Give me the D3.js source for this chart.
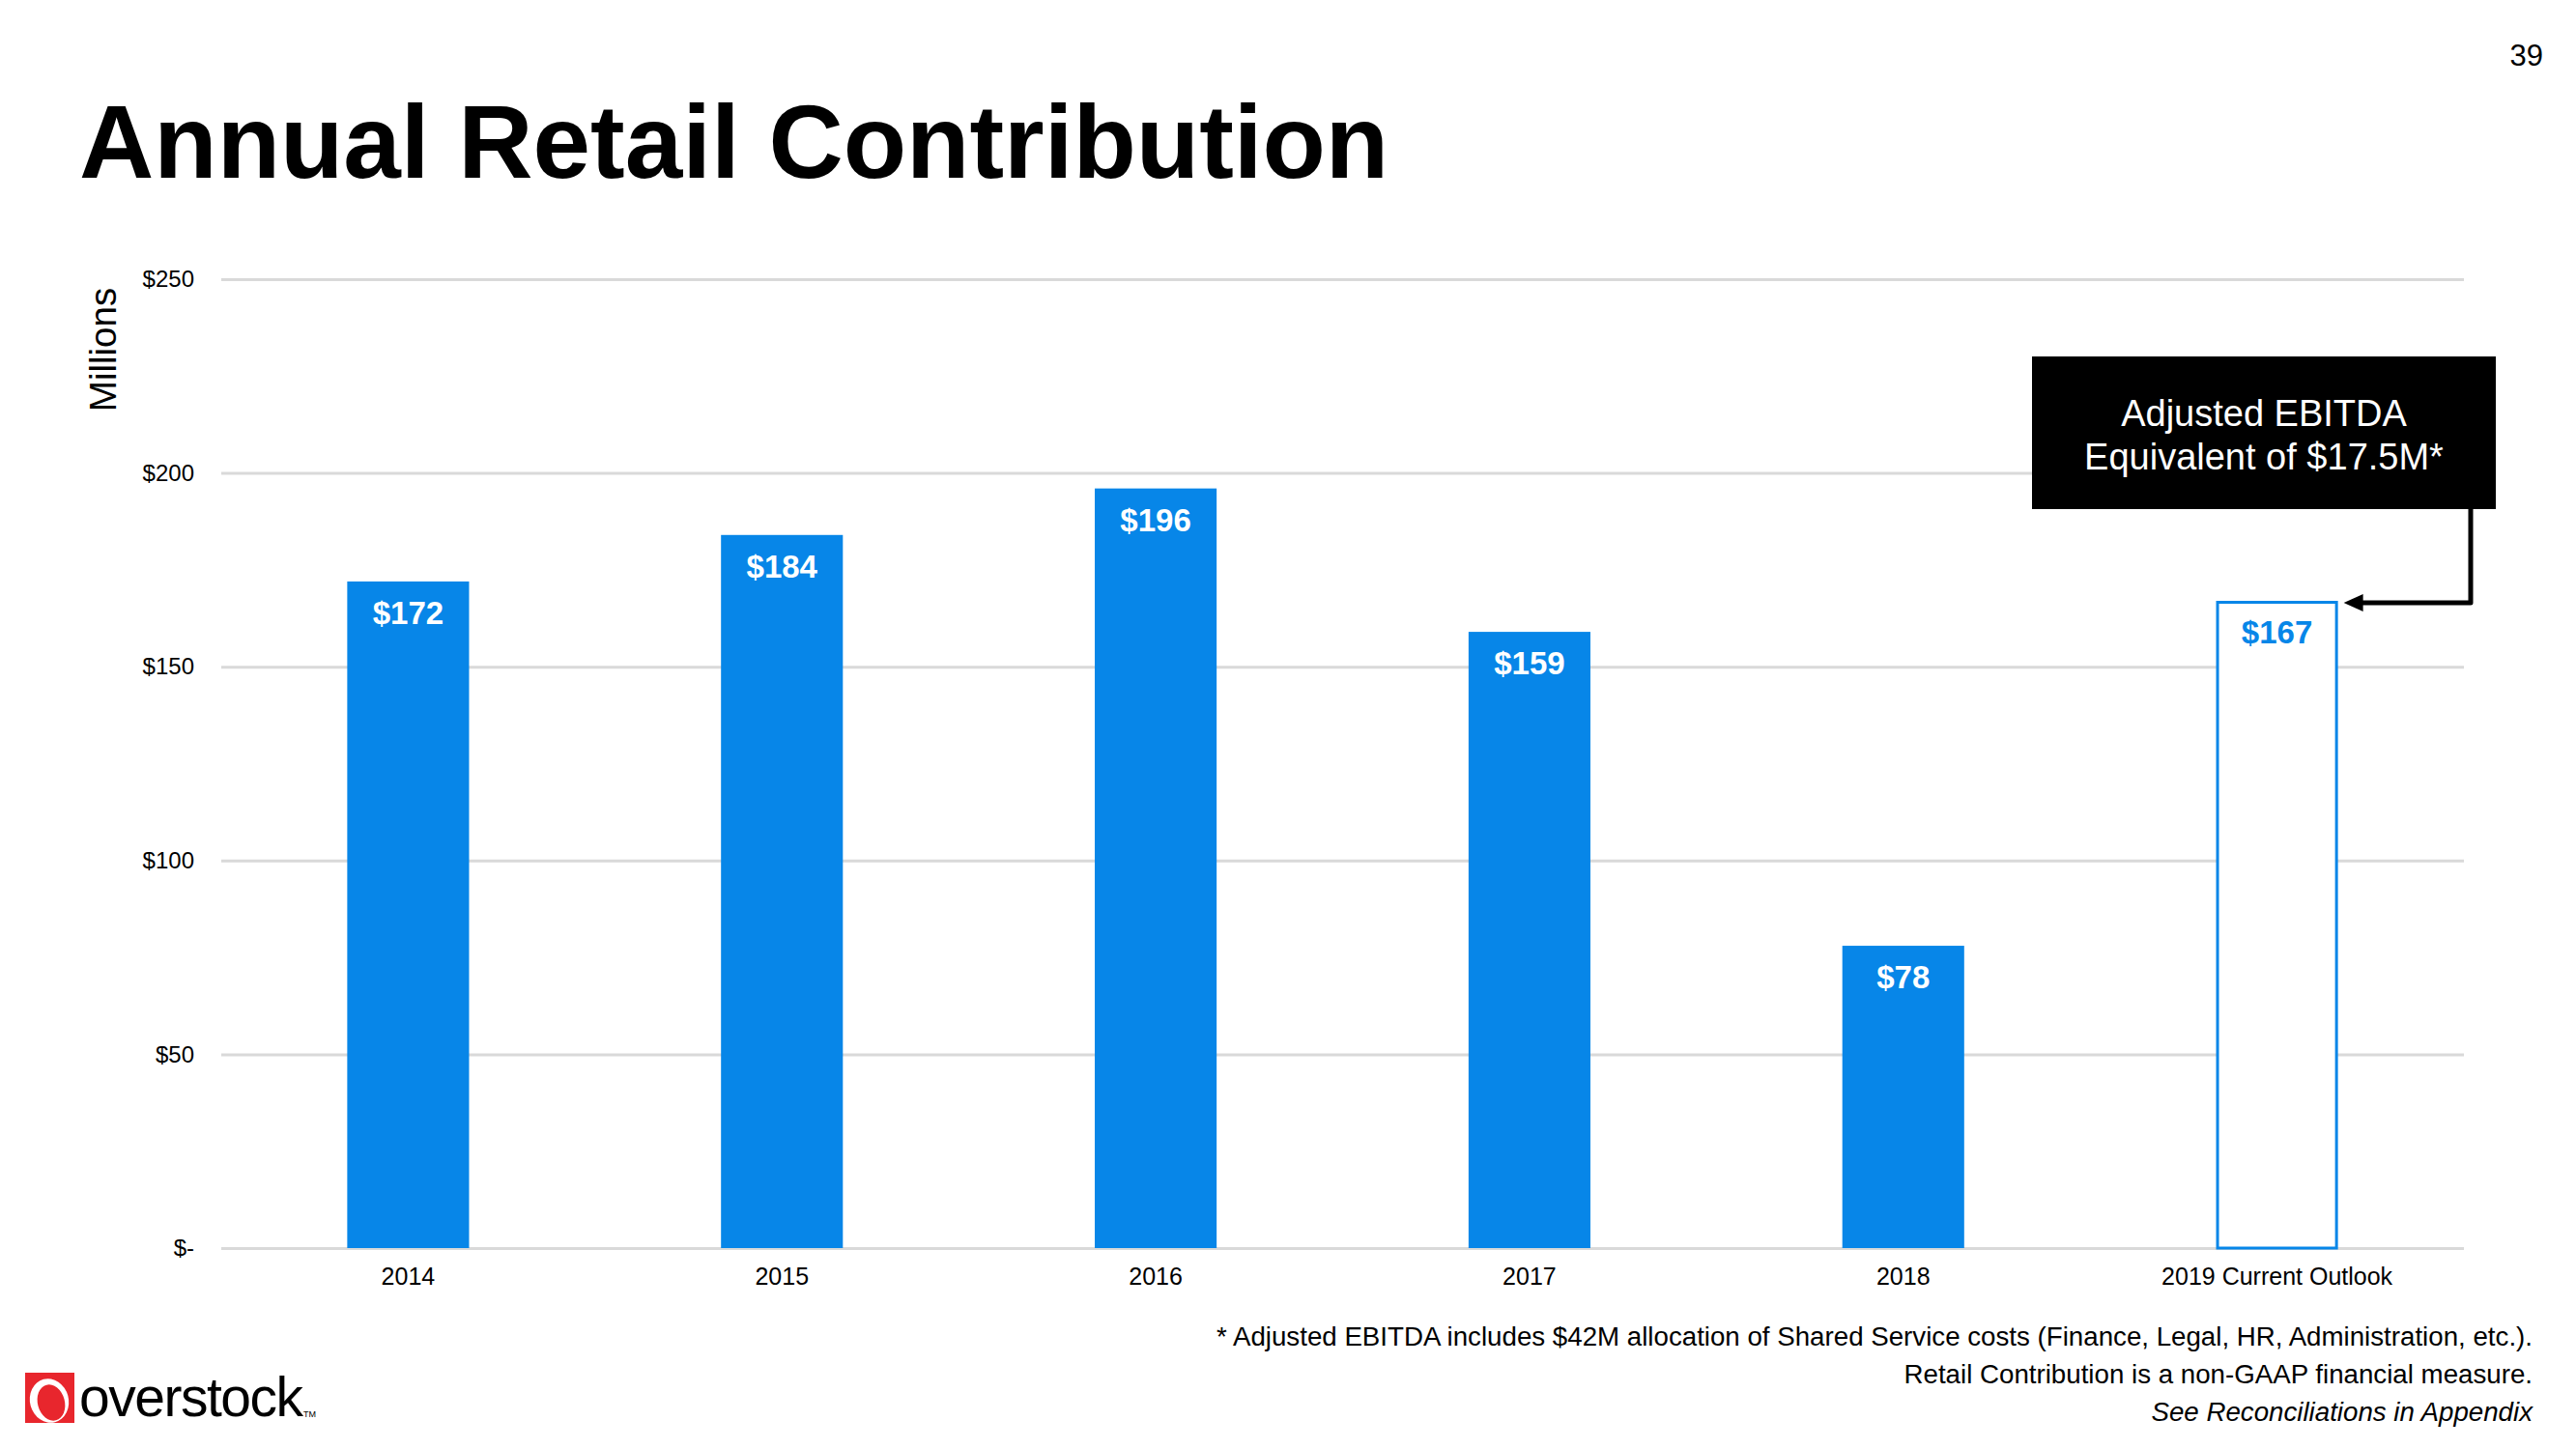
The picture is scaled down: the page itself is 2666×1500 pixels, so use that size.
<!DOCTYPE html>
<html><head><meta charset="utf-8">
<script src="https://cdn.jsdelivr.net/npm/d3@7"></script>
<style>
html,body{margin:0;padding:0;background:#fff;}
svg{display:block;font-family:"Liberation Sans",Arial,sans-serif;}
</style></head>
<body>
<svg id="chart" width="2666" height="1500"></svg>
<script>
const categories = ["2014","2015","2016","2017","2018","2019 Current Outlook"];
const values = [172,184,196,159,78,167];
const labels = ["$172","$184","$196","$159","$78","$167"];
const outlook = [false,false,false,false,false,true];
const yTicks = [0,50,100,150,200,250];
const yTickLabels = ["$-","$50","$100","$150","$200","$250"];
const footnotes = [
  "* Adjusted EBITDA includes $42M allocation of Shared Service costs (Finance, Legal, HR, Administration, etc.).",
  "Retail Contribution is a non-GAAP financial measure.",
  "See Reconciliations in Appendix"
];
const calloutLines = ["Adjusted EBITDA","Equivalent of $17.5M*"];

const BLUE = "#0786e8";
const svg = d3.select("#chart");

const plot = {left:229, right:2550, top:289, bottom:1292};
const x = d3.scaleBand().domain(categories).range([plot.left, plot.right]).paddingInner(0.674).paddingOuter(0.337);
const y = d3.scaleLinear().domain([0,250]).range([plot.bottom, plot.top]);

// title
svg.append("text").attr("x",82).attr("y",184).attr("font-size",107).attr("font-weight","bold").attr("fill","#000").text("Annual Retail Contribution");
// page number
svg.append("text").attr("x",2632).attr("y",68).attr("text-anchor","end").attr("font-size",31).attr("fill","#000").text("39");

// y axis + gridlines
const yAxis = d3.axisLeft(y).tickValues(yTicks).tickFormat((d,i)=>yTickLabels[i]).tickSize(-(plot.right-plot.left)).tickPadding(28);
const ya = svg.append("g").attr("transform",`translate(${plot.left},0)`).call(yAxis);
ya.select(".domain").remove();
ya.selectAll(".tick line").attr("stroke","#d9d9d9").attr("stroke-width",3);
ya.selectAll(".tick text").attr("font-size",24).attr("font-family","Liberation Sans, Arial, sans-serif").attr("fill","#000");

// y title
svg.append("text").attr("transform","translate(120,362) rotate(-90)").attr("text-anchor","middle").attr("font-size",38.5).attr("fill","#000").text("Millions");

// x axis
const xAxis = d3.axisBottom(x).tickSize(0).tickPadding(20);
const xa = svg.append("g").attr("transform",`translate(0,${plot.bottom})`).call(xAxis);
xa.select(".domain").remove();
xa.selectAll(".tick text").attr("font-size",25).attr("font-family","Liberation Sans, Arial, sans-serif").attr("fill","#000");

// bars
const data = categories.map((c,i)=>({c, v:values[i], l:labels[i], o:outlook[i]}));
svg.append("g").selectAll("rect").data(data).join("rect")
  .attr("x",d=>x(d.c)+(d.o?1.5:0))
  .attr("y",d=>y(d.v)+(d.o?1.5:0))
  .attr("width",d=>x.bandwidth()-(d.o?3:0))
  .attr("height",d=>y(0)-y(d.v)-(d.o?1.5:0))
  .attr("fill",d=>d.o?"#fff":BLUE)
  .attr("stroke",d=>d.o?BLUE:"none")
  .attr("stroke-width",3);

svg.append("g").selectAll("text").data(data).join("text")
  .attr("x",d=>x(d.c)+x.bandwidth()/2)
  .attr("y",d=>y(d.v)+44)
  .attr("text-anchor","middle")
  .attr("font-size",33).attr("font-weight","bold")
  .attr("fill",d=>d.o?BLUE:"#fff")
  .text(d=>d.l);

// callout box
const bx0=2103, bx1=2583, by0=369, by1=527;
svg.append("rect").attr("x",bx0).attr("y",by0).attr("width",bx1-bx0).attr("height",by1-by0).attr("fill","#000");
svg.append("g").selectAll("text").data(calloutLines).join("text")
  .attr("x",(bx0+bx1)/2).attr("y",(d,i)=>441+i*45)
  .attr("text-anchor","middle").attr("font-size",38).attr("fill","#fff").text(d=>d);

// connector arrow to 2019 bar
const last = data[data.length-1];
const tipX = x(last.c)+x.bandwidth()+6;
const ay = y(last.v)+2;
svg.append("path").attr("d",`M2557,${by1} L2557,${ay} L${tipX+16},${ay}`)
  .attr("fill","none").attr("stroke","#000").attr("stroke-width",5).attr("stroke-linejoin","round");
svg.append("path").attr("d",`M${tipX},${ay} L${tipX+20},${ay-9} L${tipX+20},${ay+9} Z`).attr("fill","#000");

// footnotes
svg.append("g").selectAll("text").data(footnotes).join("text")
  .attr("x",2621).attr("y",(d,i)=>1393+i*39)
  .attr("text-anchor","end").attr("font-size",27.7)
  .attr("font-style",(d,i)=>i===2?"italic":"normal")
  .attr("fill","#000").text(d=>d);

// logo
const lg = svg.append("g");
lg.append("rect").attr("x",26).attr("y",1421).attr("width",51).attr("height",52).attr("fill","#e8262d");
lg.append("ellipse").attr("cx",51).attr("cy",1450).attr("rx",20).attr("ry",23).attr("fill","#fff").attr("transform","rotate(-15,51,1450)");
lg.append("ellipse").attr("cx",53).attr("cy",1452).attr("rx",14).attr("ry",19).attr("fill","#e8262d").attr("transform","rotate(-15,53,1452)");
lg.append("text").attr("x",82).attr("y",1466).attr("font-size",57).attr("font-family","Liberation Sans, Arial, sans-serif").attr("letter-spacing",-1.5).attr("fill","#000").text("overstock");
lg.append("text").attr("x",314).attr("y",1467).attr("font-size",9).attr("fill","#000").text("TM");
</script>
</body></html>
